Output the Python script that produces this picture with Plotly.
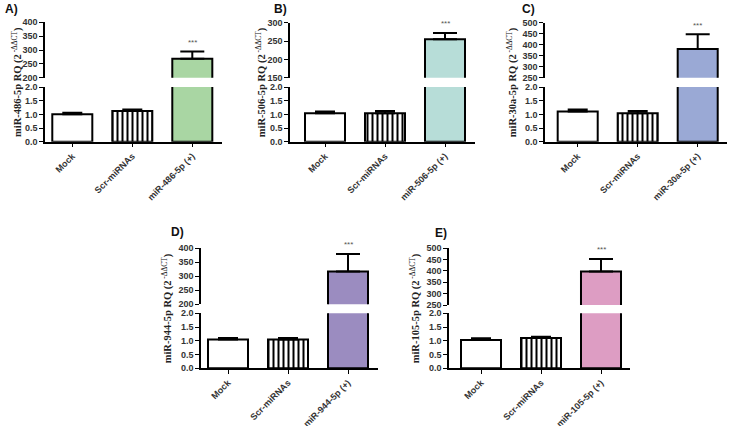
import plotly.graph_objects as go

W, H = 729, 426

# data
panel_letters = ["A)", "B)", "C)", "D)", "E)"]
mirnas = ["miR-486-5p", "miR-506-5p", "miR-30a-5p", "miR-944-5p", "miR-105-5p"]
groups = ["Mock", "Scr-miRNAs"]

mock_vals = [1.00, 1.04, 1.10, 1.05, 1.03]
mock_err = [0.06, 0.06, 0.08, 0.05, 0.06]
scr_vals = [1.12, 1.04, 1.04, 1.05, 1.10]
scr_err = [0.06, 0.08, 0.08, 0.05, 0.05]
mir_vals = [268, 255, 380, 317, 398]
mir_err = [27, 17, 67, 63, 55]

top_ranges = [(200, 400), (150, 300), (250, 500), (200, 400), (250, 500)]
bottom_range = (0, 2)

mir_colors = ["#a9d6a3", "#b7ddd8", "#9aa9d5", "#9b8cc0", "#dd9dc3"]

# panel geometry in pixels: axis left/right, first tick, top and bottom segments
geom = [
    dict(x0=45, x1=222, t0=72.3, top=(22.3, 77.7), bot=(87, 141.7), title_x=17, lab=(11, 9)),
    dict(x0=290, x1=475, t0=325, top=(22.7, 77.7), bot=(87, 141.7), title_x=261, lab=(280, 9)),
    dict(x0=545, x1=727, t0=577.7, top=(22.7, 77.7), bot=(87, 141.7), title_x=512, lab=(528, 9)),
    dict(x0=201, x1=378, t0=228, top=(248.3, 304.3), bot=(313.3, 368.3), title_x=167, lab=(177, 232)),
    dict(x0=449, x1=630, t0=481, top=(248.3, 305), bot=(313.3, 368.3), title_x=415, lab=(441, 233)),
]
step = 60.0


def px(x):
    return x / W


def py(y):
    return 1 - y / H


fig = go.Figure()
layout = {}
annotations = []

tick_font = dict(family="Liberation Sans", size=9, color="#333333", weight="bold")
cat_font = dict(family="Liberation Sans", size=9, color="#333333", weight="bold")

for i in range(5):
    g = geom[i]
    cats = groups + [mirnas[i] + " (+)"]
    xr = [(g["x0"] - g["t0"]) / step, (g["x1"] - g["t0"]) / step]
    xdom = [px(g["x0"]), px(g["x1"])]

    for s in range(2):  # 0 bottom, 1 top
        k = 2 * i + s + 1
        xa = "x" if k == 1 else f"x{k}"
        ya = "y" if k == 1 else f"y{k}"
        seg = g["bot"] if s == 0 else g["top"]
        ydom = [py(seg[1]), py(seg[0])]

        bars = [
            (0, mock_vals[i], mock_err[i], "white", "", 10),
            (1, scr_vals[i], scr_err[i], "white", "|", 10),
            (2, mir_vals[i], mir_err[i], mir_colors[i], "", 12),
        ]
        for xpos, val, err, col, shape, capw in bars:
            marker = dict(color=col, line=dict(color="black", width=2))
            if shape:
                marker["pattern"] = dict(shape=shape, fgcolor="black", bgcolor="white",
                                         size=5, solidity=0.4, fillmode="replace")
            fig.add_trace(go.Bar(
                x=[xpos], y=[val], xaxis=xa, yaxis=ya, width=0.667,
                marker=marker,
                error_y=dict(type="data", array=[err], arrayminus=[0], symmetric=False,
                             color="black", thickness=2, width=capw),
                showlegend=False, hoverinfo="skip",
            ))

        xkey = "xaxis" if k == 1 else f"xaxis{k}"
        ykey = "yaxis" if k == 1 else f"yaxis{k}"
        layout[xkey] = dict(
            domain=xdom, range=xr, anchor=ya, fixedrange=True, automargin=False,
            showline=(s == 0), linecolor="black", linewidth=1.5,
            ticks="outside" if s == 0 else "", ticklen=4, tickwidth=1, tickcolor="black",
            tickvals=[0, 1, 2], ticktext=cats,
            tickangle=-45, tickfont=cat_font,
            showgrid=False, zeroline=False, showticklabels=(s == 0),
        )
        if s == 0:
            yr = list(bottom_range)
            yt = [0, 0.5, 1.0, 1.5, 2.0]
            ytxt = [f"{v:.1f}" for v in yt]
        else:
            yr = list(top_ranges[i])
            yt = list(range(yr[0], yr[1] + 1, 50))
            ytxt = [str(v) for v in yt]
        layout[ykey] = dict(
            domain=ydom, range=yr, anchor=xa, fixedrange=True, automargin=False,
            showline=True, linecolor="black", linewidth=1.5,
            ticks="outside", ticklen=4, tickwidth=1, tickcolor="black",
            tickvals=yt, ticktext=ytxt, tickfont=tick_font,
            showgrid=False, zeroline=False,
        )

    # significance stars above the big bar
    k_top = 2 * i + 2
    annotations.append(dict(
        x=2, y=mir_vals[i] + mir_err[i], xref=f"x{k_top}", yref=f"y{k_top}",
        text="***", showarrow=False, yshift=9,
        font=dict(family="Liberation Sans", size=8, color="#555555"),
    ))
    # y axis title
    yc = (g["top"][0] + g["bot"][1]) / 2
    annotations.append(dict(
        x=px(g["title_x"]), y=py(yc), xref="paper", yref="paper",
        xanchor="center", yanchor="middle",
        text=f"<b>{mirnas[i]} RQ (2</b><sup> -ΔΔCT</sup><b>)</b>",
        textangle=-90, showarrow=False,
        font=dict(family="Liberation Serif", size=10.5, color="#222222"),
    ))
    # panel letter
    annotations.append(dict(
        x=px(g["lab"][0]), y=py(g["lab"][1]), xref="paper", yref="paper",
        xanchor="center", yanchor="middle",
        text=panel_letters[i], showarrow=False,
        font=dict(family="Liberation Sans", size=12, color="#111111", weight="bold"),
    ))

fig.update_layout(
    width=W, height=H,
    margin=dict(l=0, r=0, t=0, b=0, autoexpand=False),
    paper_bgcolor="white", plot_bgcolor="white",
    annotations=annotations,
    barmode="overlay",
)
fig.update_layout(layout)

# drop the page's default body margin so the figure sits at the window corner
fig.write_html("out.html", config={"displayModeBar": False},
               post_script="document.body.style.margin='0';document.body.style.overflow='hidden';")
